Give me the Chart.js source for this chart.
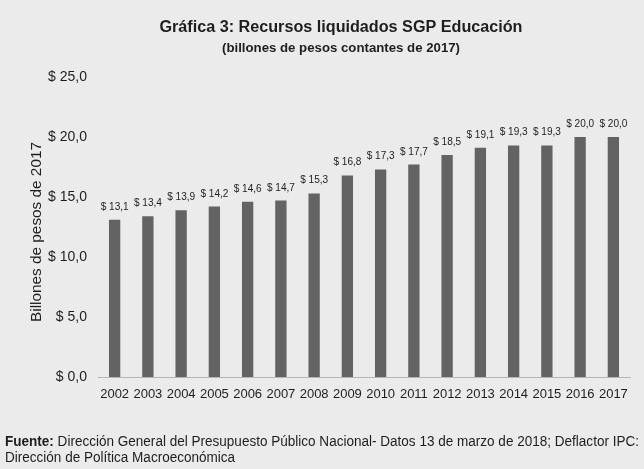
<!DOCTYPE html>
<html>
<head>
<meta charset="utf-8">
<script src="https://cdn.jsdelivr.net/npm/chart.js@4"></script>
<style>
  html, body { margin: 0; padding: 0; background: #ebebeb; }
  #wrap { width: 644px; height: 469px; position: relative; }
</style>
</head>
<body>
<div id="wrap"><canvas id="chart"></canvas></div>
<script>
// ================== Data ==================
const years = ['2002', '2003', '2004', '2005', '2006', '2007', '2008', '2009',
               '2010', '2011', '2012', '2013', '2014', '2015', '2016', '2017'];
const recursos = [13.1, 13.4, 13.9, 14.2, 14.6, 14.7, 15.3, 16.8,
                  17.3, 17.7, 18.5, 19.1, 19.3, 19.3, 20.0, 20.0];
const yTicks = [0, 5, 10, 15, 20, 25];

const titleText = 'Gráfica 3: Recursos liquidados SGP Educación';
const subtitleText = '(billones de pesos contantes de 2017)';
const yTitleText = 'Billones de pesos de 2017';
const footerBold = 'Fuente:';
const footerLine1 = ' Dirección General del Presupuesto Público Nacional- Datos 13 de marzo de 2018; Deflactor IPC:';
const footerLine2 = 'Dirección de Política Macroeconómica';

const FONT = '"Liberation Sans", Arial, sans-serif';
const INK = '#1e1e1e';

const fmt = v => '$ ' + v.toFixed(1).replace('.', ',');

// draw text stretched/squeezed to a given width
function fitText(ctx, text, x, y, width) {
  const sx = width / ctx.measureText(text).width;
  ctx.save();
  ctx.translate(x, y);
  ctx.scale(sx, 1);
  ctx.fillText(text, 0, 0);
  ctx.restore();
  return sx;
}

// ================== Plugins ==================
// value labels above each bar
const BarLabels = {
  id: 'barLabels',
  afterDatasetsDraw(chart) {
    const { ctx } = chart;
    const meta = chart.getDatasetMeta(0);
    ctx.save();
    ctx.font = '11px ' + FONT;
    ctx.fillStyle = INK;
    ctx.textAlign = 'center';
    ctx.textBaseline = 'middle';
    meta.data.forEach((bar, i) => {
      fitText(ctx, fmt(recursos[i]), bar.x, bar.y - 13, 28);
    });
    ctx.restore();
  }
};

// titles, rotated axis title and source note
const Texts = {
  id: 'texts',
  afterDraw(chart) {
    const { ctx } = chart;
    ctx.save();
    ctx.fillStyle = INK;
    ctx.textAlign = 'center';
    ctx.textBaseline = 'middle';
    ctx.font = 'bold 16px ' + FONT;
    fitText(ctx, titleText, 341, 28, 363);
    ctx.font = 'bold 13px ' + FONT;
    fitText(ctx, subtitleText, 341, 48, 238);

    // y axis title
    ctx.save();
    ctx.translate(37, 232);
    ctx.rotate(-Math.PI / 2);
    ctx.font = '15px ' + FONT;
    fitText(ctx, yTitleText, 0, 0, 180);
    ctx.restore();

    // footer
    ctx.textAlign = 'left';
    ctx.font = 'bold 14px ' + FONT;
    const wb = ctx.measureText(footerBold).width;
    ctx.font = '14px ' + FONT;
    const w1 = ctx.measureText(footerLine1).width;
    const sx = 634 / (wb + w1);
    const draw = (t, x, y) => {
      ctx.save();
      ctx.translate(x, y);
      ctx.scale(sx, 1);
      ctx.fillText(t, 0, 0);
      ctx.restore();
    };
    ctx.font = 'bold 14px ' + FONT;
    draw(footerBold, 5, 442);
    ctx.font = '14px ' + FONT;
    draw(footerLine1, 5 + wb * sx, 442);
    draw(footerLine2, 5, 458);
    ctx.restore();
  }
};

// ================== Chart ==================
new Chart(document.getElementById('chart'), {
  type: 'bar',
  plugins: [BarLabels, Texts],
  data: {
    labels: years,
    datasets: [{
      data: recursos,
      backgroundColor: '#636363',
      categoryPercentage: 1,
      barPercentage: 0.34
    }]
  },
  options: {
    responsive: true,
    maintainAspectRatio: false,
    animation: false,
    layout: { padding: { left: 0, right: 14, top: 77, bottom: 0 } },
    plugins: { legend: { display: false }, tooltip: { enabled: false } },
    scales: {
      x: {
        grid: { display: false, drawTicks: false },
        border: { display: true, color: '#b5b5b5', width: 1 },
        ticks: { color: INK, font: { family: FONT, size: 13 }, padding: 10, maxRotation: 0, autoSkip: false },
        afterFit(scale) { scale.height = 92; }
      },
      y: {
        min: 0,
        max: 25,
        grid: { display: false, drawTicks: false },
        border: { display: false },
        afterBuildTicks(scale) { scale.ticks = yTicks.map(v => ({ value: v })); },
        ticks: {
          color: INK,
          font: { family: FONT, size: 14 },
          padding: 11,
          callback: v => fmt(v)
        },
        afterFit(scale) { scale.width = 98; }
      }
    }
  }
});
</script>
</body>
</html>
